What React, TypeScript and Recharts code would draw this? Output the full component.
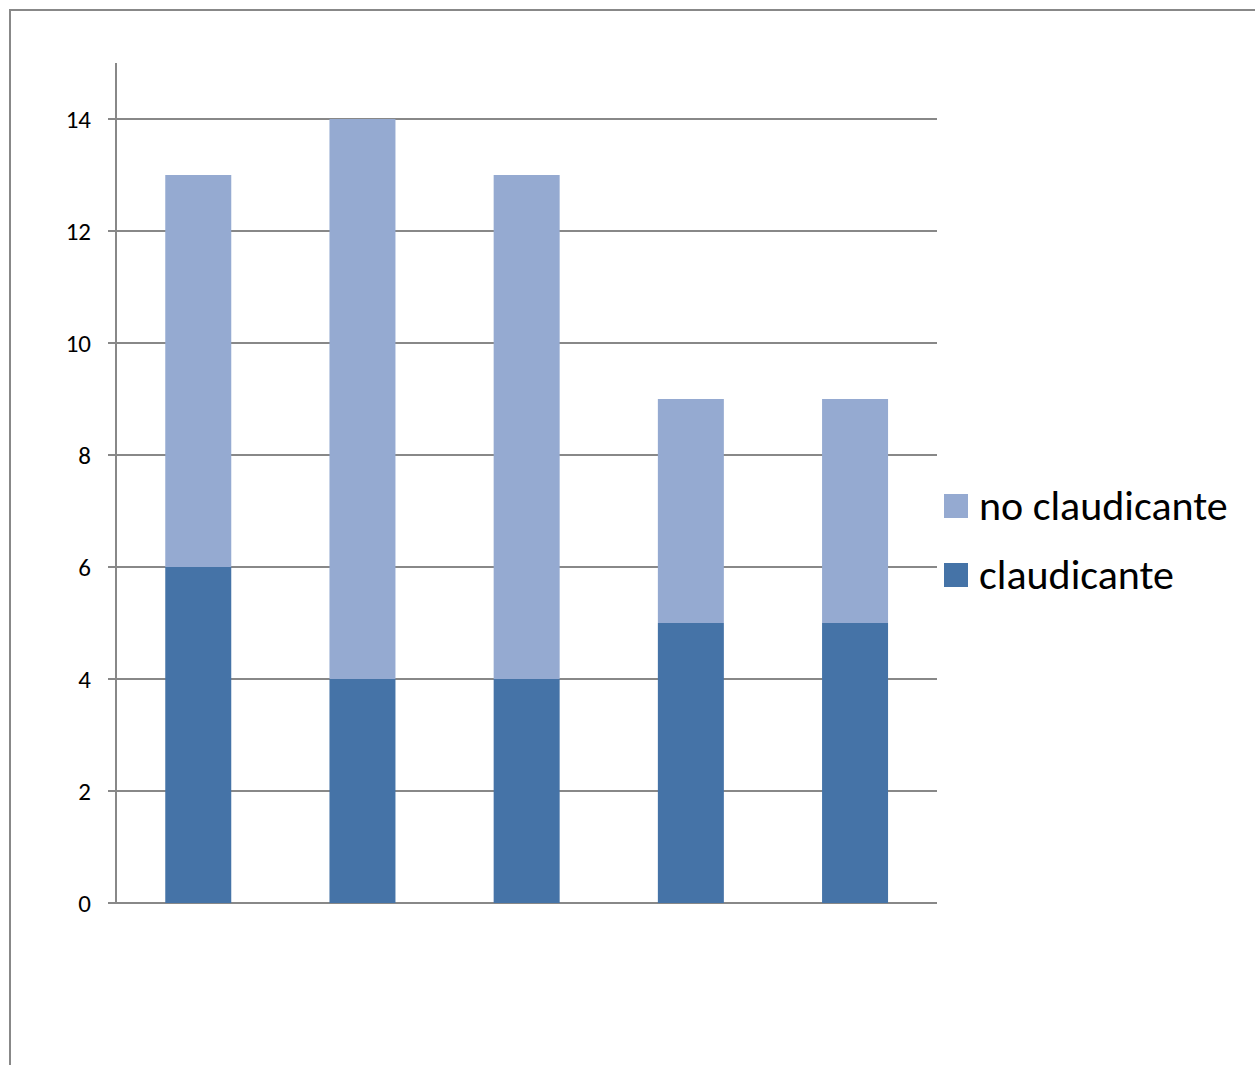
import React from 'react';
import { BarChart, Bar, XAxis, YAxis, CartesianGrid, Legend } from 'recharts';

const categories = ['1', '2', '3', '4', '5'];
const claudicante = [6, 4, 4, 5, 5];
const noClaudicante = [7, 10, 9, 4, 4];
const yTicks = [0, 2, 4, 6, 8, 10, 12, 14];

const data = categories.map((c, i) => ({
  name: c,
  claudicante: claudicante[i],
  noClaudicante: noClaudicante[i],
}));

const DARK = '#4573a7';
const LIGHT = '#95aad1';
const LINE = '#888888';
const FONT = 'Carlito, Calibri, "Open Sans", "Liberation Sans", sans-serif';

const legendItems = [
  { label: 'no claudicante', color: LIGHT },
  { label: 'claudicante', color: DARK },
];

const renderLegend = () => (
  <div style={{ fontFamily: FONT }}>
    {legendItems.map((it) => (
      <div
        key={it.label}
        style={{ display: 'flex', alignItems: 'center', height: 69 }}
      >
        <div style={{ width: 24, height: 24, background: it.color, marginRight: 11 }} />
        <span style={{ fontSize: 42, color: '#000', lineHeight: '44px', whiteSpace: 'nowrap' }}>
          {it.label}
        </span>
      </div>
    ))}
  </div>
);

export default function App() {
  return (
    <div
      style={{
        position: 'absolute',
        left: 0,
        top: 0,
        width: 1255,
        height: 1065,
        overflow: 'hidden',
        background: '#fff',
      }}
    >
      <div
        style={{
          position: 'absolute',
          left: 9,
          top: 9,
          width: 1400,
          height: 1200,
          borderLeft: `2px solid ${LINE}`,
          borderTop: `2px solid ${LINE}`,
        }}
      />
      <div style={{ position: 'absolute', left: 0, top: 0 }}>
        {/* the legend box (311px) is reserved on the right by the chart itself */}
        <BarChart
          width={1255}
          height={1065}
          data={data}
          margin={{ top: 63, right: 7, bottom: 162, left: 0 }}
          barCategoryGap="30%"
        >
          <CartesianGrid vertical={false} stroke={LINE} strokeWidth={2} syncWithTicks />
          <XAxis dataKey="name" hide />
          <YAxis
            width={116}
            domain={[0, 15]}
            ticks={yTicks}
            interval={0}
            axisLine={{ stroke: LINE, strokeWidth: 2 }}
            tickLine={{ stroke: LINE, strokeWidth: 2 }}
            tickSize={8}
            tickMargin={17}
            tick={{ fill: '#000', fontSize: 25, fontFamily: FONT }}
          />
          <Legend
            layout="horizontal"
            align="right"
            verticalAlign="middle"
            content={renderLegend}
            wrapperStyle={{ left: 944, top: 471, width: 311 }}
          />
          <Bar dataKey="claudicante" stackId="a" fill={DARK} isAnimationActive={false} />
          <Bar dataKey="noClaudicante" stackId="a" fill={LIGHT} isAnimationActive={false} />
        </BarChart>
      </div>
    </div>
  );
}
